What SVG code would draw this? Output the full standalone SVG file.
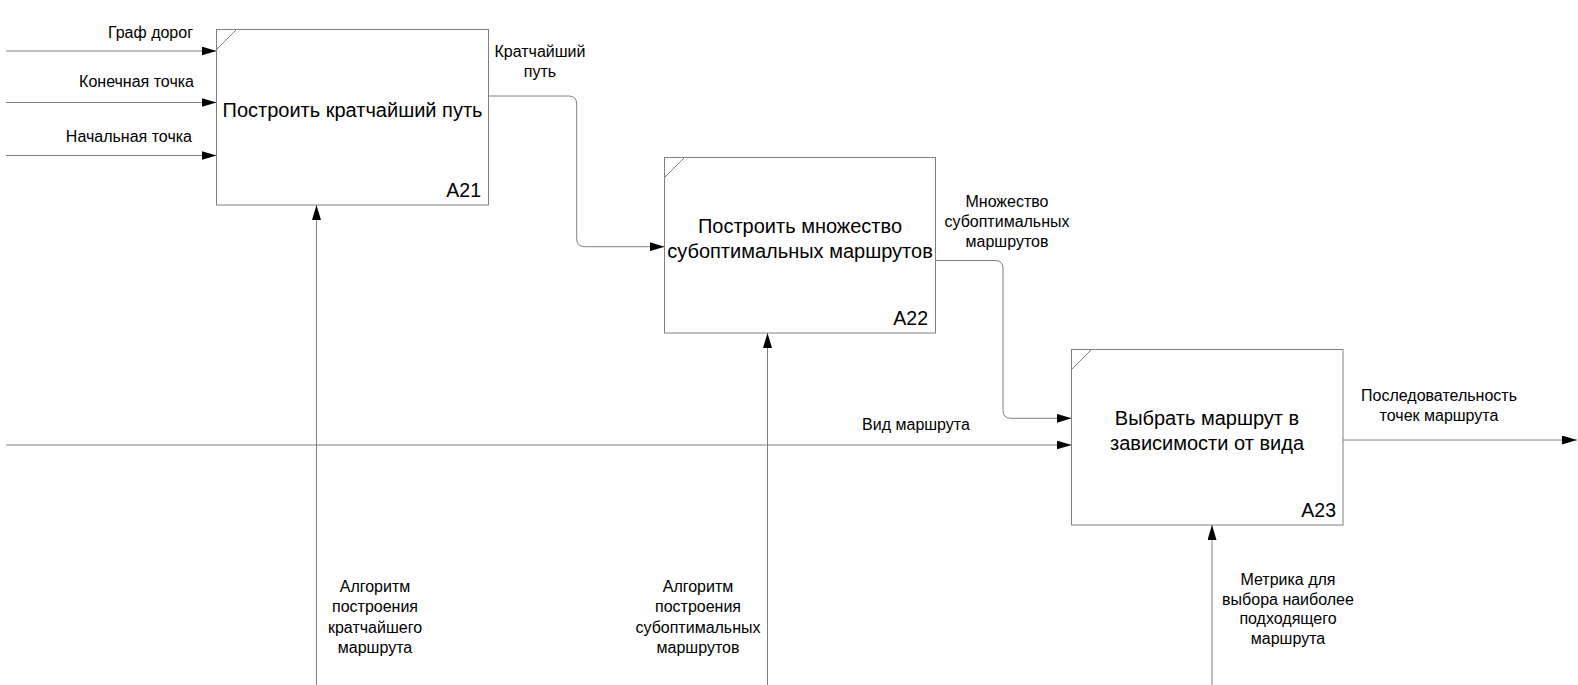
<svg xmlns="http://www.w3.org/2000/svg" width="1578" height="685" viewBox="0 0 1578 685">
<style>
.box{fill:#fff;stroke:#808080;stroke-width:1}
.diag{stroke:#808080;stroke-width:1;fill:none}
.title{font-family:"Liberation Sans",Arial,sans-serif;font-size:20px;fill:#000;text-anchor:middle}
.num{font-family:"Liberation Sans",Arial,sans-serif;font-size:19.5px;fill:#000;text-anchor:end}
.lbl{font-family:"Liberation Sans",Arial,sans-serif;font-size:16px;fill:#000}
.c{text-anchor:middle}
.r{text-anchor:end}
.conn{fill:none;stroke:#808080;stroke-width:1;marker-end:url(#arr)}
</style>
<defs>
<marker id="arr" viewBox="0 0 15 9" refX="15" refY="4.5" markerWidth="15" markerHeight="9" markerUnits="userSpaceOnUse" orient="auto">
<path d="M0,0 L15,4.5 L0,9 z" fill="#000"/>
</marker>
</defs>
<g id="connectors">
<path class="conn" d="M6,51 H216.5"/>
<path class="conn" d="M6,102.5 H216.5"/>
<path class="conn" d="M6,155.5 H216.5"/>
<path class="conn" d="M488.5,96 H568.7 Q576.7,96 576.7,104 V238.7 Q576.7,246.7 584.7,246.7 H664.5"/>
<path class="conn" d="M935.5,260.5 H995 Q1003,260.5 1003,268.5 V410.3 Q1003,418.3 1011,418.3 H1071.5"/>
<path class="conn" d="M6,445 H1071.5"/>
<path class="conn" d="M1343,440 H1577"/>
<path class="conn" d="M316.5,685 V205"/>
<path class="conn" d="M767.5,685 V333"/>
<path class="conn" d="M1212,685 V525"/>
<text class="lbl r" x="193" y="38">Граф дорог</text>
<text class="lbl r" x="194" y="87">Конечная точка</text>
<text class="lbl r" x="192" y="142">Начальная точка</text>
<text class="lbl c" x="540" y="57">Кратчайший<tspan x="540" dy="20">путь</tspan></text>
<text class="lbl c" x="1007" y="207">Множество<tspan x="1007" dy="20">субоптимальных</tspan><tspan x="1007" dy="20">маршрутов</tspan></text>
<text class="lbl c" x="916" y="430">Вид маршрута</text>
<text class="lbl c" x="1439" y="401">Последовательность<tspan x="1439" dy="20">точек маршрута</tspan></text>
<text class="lbl c" x="375" y="592">Алгоритм<tspan x="375" dy="20.3">построения</tspan><tspan x="375" dy="20.3">кратчайшего</tspan><tspan x="375" dy="20.3">маршрута</tspan></text>
<text class="lbl c" x="698" y="592">Алгоритм<tspan x="698" dy="20.3">построения</tspan><tspan x="698" dy="20.3">субоптимальных</tspan><tspan x="698" dy="20.3">маршрутов</tspan></text>
<text class="lbl c" x="1288" y="585">Метрика для<tspan x="1288" dy="19.5">выбора наиболее</tspan><tspan x="1288" dy="19.5">подходящего</tspan><tspan x="1288" dy="19.5">маршрута</tspan></text>
</g>
<g id="A21">
<rect class="box" x="216.5" y="29.5" width="272" height="175.5"/>
<path class="diag" d="M216.5,49.5 L236.5,29.5"/>
<text class="title" x="352.5" y="117">Построить кратчайший путь</text>
<text class="num" x="481" y="197">A21</text>
</g>
<g id="A22">
<rect class="box" x="664.5" y="157.5" width="271" height="175.5"/>
<path class="diag" d="M664.5,177.5 L684.5,157.5"/>
<text class="title" x="800" y="233">Построить множество<tspan x="800" dy="25">субоптимальных маршрутов</tspan></text>
<text class="num" x="928" y="325">A22</text>
</g>
<g id="A23">
<rect class="box" x="1071.5" y="349.5" width="271.5" height="175.5"/>
<path class="diag" d="M1071.5,369.5 L1091.5,349.5"/>
<text class="title" x="1207" y="425">Выбрать маршрут в<tspan x="1207" dy="24.5">зависимости от вида</tspan></text>
<text class="num" x="1336" y="517">A23</text>
</g>
</svg>
